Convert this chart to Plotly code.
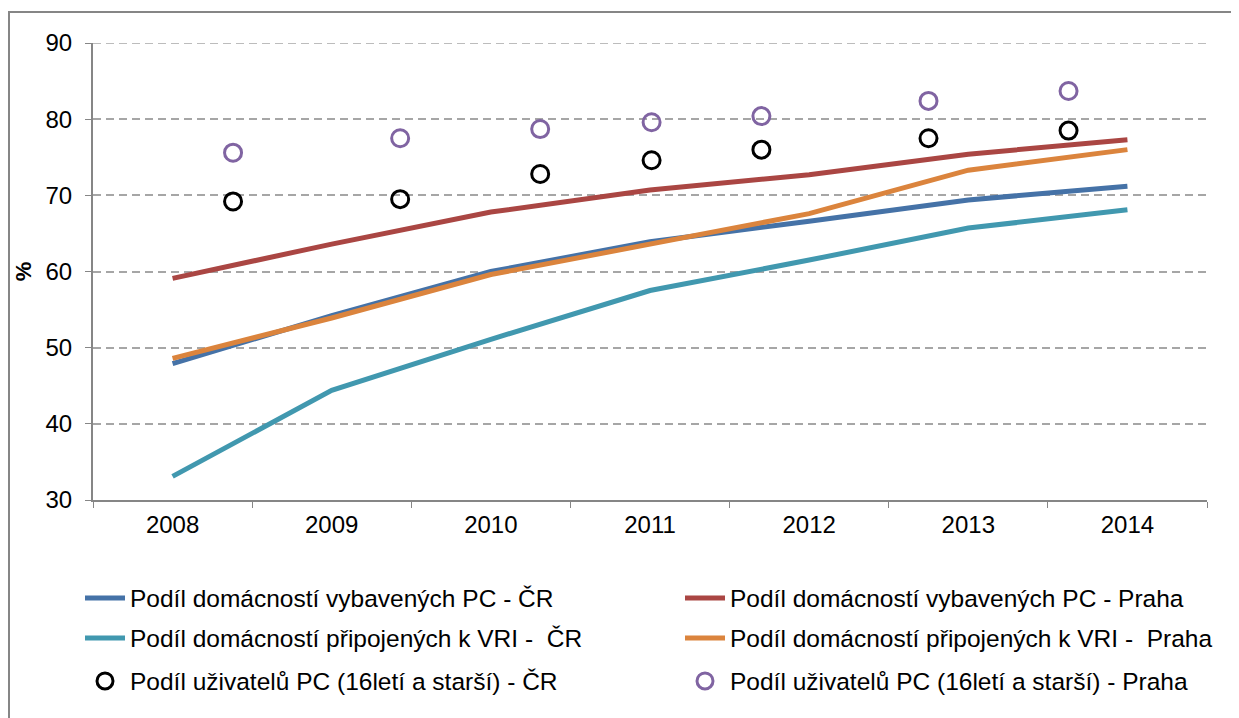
import plotly.graph_objects as go

years = ["2008", "2009", "2010", "2011", "2012", "2013", "2014"]

pc_cr = [47.9, 54.2, 60.0, 63.9, 66.6, 69.4, 71.2]
pc_praha = [59.1, 63.6, 67.8, 70.7, 72.7, 75.4, 77.3]
vri_cr = [33.1, 44.4, 51.1, 57.5, 61.5, 65.7, 68.1]
vri_praha = [48.6, 53.9, 59.6, 63.6, 67.6, 73.3, 76.0]

users_x = [2008.38, 2009.43, 2010.31, 2011.01, 2011.70, 2012.75, 2013.63]
users_cr = [69.2, 69.5, 72.8, 74.6, 76.0, 77.5, 78.5]
users_praha = [75.6, 77.5, 78.7, 79.6, 80.4, 82.4, 83.7]

names = [
    "Podíl domácností vybavených PC - ČR",
    "Podíl domácností vybavených PC - Praha",
    "Podíl domácností připojených k VRI -  ČR",
    "Podíl domácností připojených k VRI -  Praha",
    "Podíl uživatelů PC (16letí a starší) - ČR",
    "Podíl uživatelů PC (16letí a starší) - Praha",
]

FONT = "Liberation Sans, Arial, sans-serif"

fig = go.Figure()
line_series = [
    (pc_cr, "#4572A7", names[0], "legend"),
    (pc_praha, "#AA4643", names[1], "legend"),
    (vri_cr, "#4198AF", names[2], "legend2"),
    (vri_praha, "#DB843D", names[3], "legend2"),
]
for vals, col, nm, lg in line_series:
    fig.add_trace(go.Scatter(
        x=years, y=vals, name=nm, mode="lines",
        line=dict(color=col, width=5), legend=lg,
    ))

for vals, col, nm in [(users_cr, "#000000", names[4]), (users_praha, "#8064A2", names[5])]:
    fig.add_trace(go.Scatter(
        x=users_x, y=vals, name=nm, mode="markers", xaxis="x2",
        marker=dict(symbol="circle-open", size=17, color=col, line=dict(width=3, color=col)),
        legend="legend3",
    ))

# page body has an 8px margin; screen coords = figure coords + 8
OFF = 8
W, H = 1239 - OFF, 718 - OFF
L, T = 93 - OFF, 43 - OFF
R = 32
B = H - (500 - OFF)
pw = W - L - R
ph = H - T - B

def px_x(p):
    return (p - OFF - L) / pw

def px_y(p):
    return (H - B - (p - OFF)) / ph

legend_common = dict(
    orientation="h", xanchor="left", yanchor="middle",
    font=dict(family=FONT, size=24.5, color="#000000"),
    entrywidth=545, entrywidthmode="pixels",
    bgcolor="rgba(0,0,0,0)", itemwidth=40,
)

GRID = "#A6A6A6"
fig.update_layout(
    width=W, height=H,
    margin=dict(l=L, r=R, t=T, b=B, autoexpand=False),
    plot_bgcolor="white", paper_bgcolor="white",
    font=dict(family=FONT, size=24, color="#000000"),
    xaxis=dict(
        type="category", tickson="boundaries", ticks="outside", ticklen=6,
        tickcolor="#868686", showline=True, linecolor="#868686", linewidth=2,
        showgrid=False, tickfont=dict(size=24), automargin=False,
        range=[-0.5, 6.5], ticklabelstandoff=2,
    ),
    xaxis2=dict(overlaying="x", range=[2007.5, 2014.5], visible=False),
    yaxis=dict(
        range=[30, 90], dtick=10, ticks="outside", ticklen=6, tickcolor="#868686",
        showline=True, linecolor="#868686", linewidth=2,
        showgrid=True, gridcolor=GRID, griddash="8px,5px", gridwidth=1.5,
        zeroline=False, tickfont=dict(size=24), automargin=False,
        ticklabelstandoff=8,
        title=dict(text="<b>%</b>", font=dict(size=22), standoff=8),
    ),
    legend=dict(x=px_x(80), y=px_y(598), **legend_common),
    legend2=dict(x=px_x(80), y=px_y(638), **legend_common),
    legend3=dict(x=px_x(80), y=px_y(681), **legend_common),
    showlegend=True,
    shapes=[
        dict(
            type="rect", xref="paper", yref="paper",
            x0=px_x(9), x1=px_x(1260), y0=px_y(740), y1=px_y(12),
            line=dict(color="#868686", width=2), fillcolor="rgba(0,0,0,0)", layer="below",
        ),
        dict(
            type="line", xref="paper", yref="y", x0=0, x1=1, y0=90, y1=90,
            line=dict(color=GRID, width=1.5, dash="8px,5px"), layer="below",
        ),
    ],
)

fig.write_html("out.html")
